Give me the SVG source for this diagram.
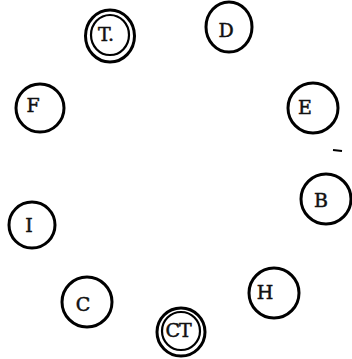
<svg xmlns="http://www.w3.org/2000/svg" width="352" height="359" viewBox="0 0 352 359">
<style>
.n{fill:none;stroke:#000;stroke-width:3}
.i{fill:none;stroke:#000;stroke-width:2.2}
.t{font-family:"DejaVu Serif","Liberation Serif",serif;font-size:19px;fill:#111;stroke:#111;stroke-width:0.5;text-anchor:middle}
</style>
<rect width="352" height="359" fill="#fff"/>
<g id="connectors"></g>
<g id="node-T"><ellipse class="n" cx="110" cy="36" rx="24.5" ry="26"/><ellipse class="i" cx="110" cy="35" rx="19" ry="20"/><text class="t" x="98" y="41" style="text-anchor:start">T.</text></g>
<g id="node-D"><ellipse class="n" cx="229" cy="27" rx="23" ry="25"/><text class="t" x="226" y="37">D</text></g>
<g id="node-F"><circle class="n" cx="40" cy="108" r="24"/><text class="t" x="33" y="112">F</text></g>
<g id="node-E"><circle class="n" cx="313" cy="108" r="25"/><text class="t" x="305" y="114">E</text></g>
<g id="node-B"><circle class="n" cx="326" cy="199" r="25"/><text class="t" x="321" y="207">B</text></g>
<g id="node-I"><circle class="n" cx="32" cy="225" r="23"/><text class="t" x="29" y="232">I</text></g>
<g id="node-C"><circle class="n" cx="87" cy="302" r="25"/><text class="t" x="83" y="311">C</text></g>
<g id="node-H"><circle class="n" cx="274" cy="293" r="25"/><text class="t" x="265" y="299">H</text></g>
<g id="node-CT"><circle class="n" cx="181" cy="332" r="24"/><circle class="i" cx="181" cy="331" r="19"/><text class="t" x="178" y="337" style="letter-spacing:-1px">CT</text></g>
<line x1="333" y1="150" x2="342" y2="151" stroke="#000" stroke-width="2"/>
</svg>
